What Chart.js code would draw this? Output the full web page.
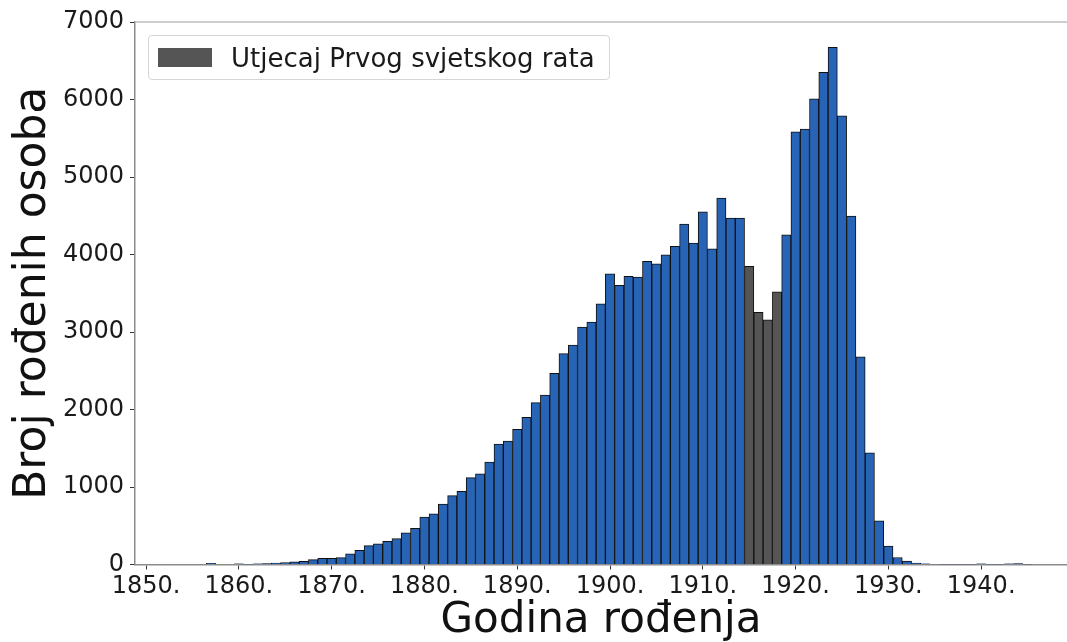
<!DOCTYPE html>
<html>
<head>
<meta charset="utf-8">
<title>Broj rođenih osoba po godini rođenja</title>
<script src="https://cdn.jsdelivr.net/npm/chart.js@4.4.1/dist/chart.umd.min.js"></script>
<style>
    html, body { margin: 0; padding: 0; background: #fff; }
    #wrap { position: relative; width: 1067px; height: 642px; }
    #legend {
        position: absolute; left: 148px; top: 35px; width: 462px; height: 45px;
        box-sizing: border-box; border: 1px solid #d6d6d6; border-radius: 4px;
        background: rgba(255, 255, 255, 0.85);
        display: flex; align-items: center;
        font-family: 'DejaVu Sans', sans-serif; font-size: 26px; color: #1a1a1a;
    }
    #legend .swatch { width: 54px; height: 19px; background: #555555; margin: 0 19px 0 9px; }
</style>
</head>
<body>
<div id="wrap">
    <canvas id="hist" width="1067" height="642"></canvas>
    <div id="legend"><span class="swatch"></span><span>Utjecaj Prvog svjetskog rata</span></div>
</div>
<script>
// godine rođenja (središta stupaca)
const years = [
    1849, 1850, 1851, 1852, 1853, 1854, 1855, 1856, 1857, 1858,
    1859, 1860, 1861, 1862, 1863, 1864, 1865, 1866, 1867, 1868,
    1869, 1870, 1871, 1872, 1873, 1874, 1875, 1876, 1877, 1878,
    1879, 1880, 1881, 1882, 1883, 1884, 1885, 1886, 1887, 1888,
    1889, 1890, 1891, 1892, 1893, 1894, 1895, 1896, 1897, 1898,
    1899, 1900, 1901, 1902, 1903, 1904, 1905, 1906, 1907, 1908,
    1909, 1910, 1911, 1912, 1913, 1914, 1915, 1916, 1917, 1918,
    1919, 1920, 1921, 1922, 1923, 1924, 1925, 1926, 1927, 1928,
    1929, 1930, 1931, 1932, 1933, 1934, 1935, 1936, 1937, 1938,
    1939, 1940, 1941, 1942, 1943, 1944, 1945, 1946
];

// broj rođenih osoba (očitano sa slike)
const counts = [
    0, 0, 0, 0, 0, 0, 0, 0, 15, 0,
    0, 8, 5, 8, 12, 18, 25, 35, 42, 62,
    80, 80, 88, 139, 183, 243, 268, 299, 333, 410,
    467, 613, 655, 780, 888, 944, 1120, 1171, 1322, 1554,
    1593, 1744, 1899, 2088, 2187, 2466, 2720, 2832, 3064, 3128,
    3365, 3751, 3601, 3718, 3709, 3911, 3881, 3997, 4105, 4392,
    4147, 4551, 4074, 4728, 4470, 4470, 3847, 3253, 3158, 3519,
    4254, 5583, 5618, 6009, 6349, 6672, 5790, 4496, 2681, 1442,
    565, 239, 90, 45, 18, 8, 6, 5, 5, 4,
    4, 10, 4, 3, 10, 12, 3, 0
];

// godine Prvog svjetskog rata (sivi stupci)
const warYears = [1915, 1916, 1917, 1918];

const xTicks = [1850, 1860, 1870, 1880, 1890, 1900, 1910, 1920, 1930, 1940];
const yTicks = [0, 1000, 2000, 3000, 4000, 5000, 6000, 7000];

const BLUE = '#2764b5';
const GREY = '#555555';
const FONT = "'DejaVu Sans', sans-serif";

// gornja linija okvira (kao matplotlib spine)
const topSpine = {
    id: 'topSpine',
    afterDraw(chart) {
        const { ctx, chartArea } = chart;
        ctx.save();
        ctx.strokeStyle = '#bdbdbd';
        ctx.lineWidth = 1.5;
        ctx.beginPath();
        ctx.moveTo(chartArea.left, chartArea.top);
        ctx.lineTo(chartArea.right, chartArea.top);
        ctx.stroke();
        ctx.restore();
    }
};

new Chart(document.getElementById('hist'), {
    type: 'bar',
    data: {
        datasets: [{
            label: 'Broj rođenih',
            data: years.map((y, i) => ({ x: y, y: counts[i] })),
            backgroundColor: years.map(y => warYears.includes(y) ? GREY : BLUE),
            borderColor: '#111111',
            borderWidth: 1,
            borderSkipped: 'start',
            barPercentage: 1,
            categoryPercentage: 1
        }]
    },
    options: {
        responsive: false,
        animation: false,
        layout: { padding: { top: 22, right: 0, bottom: 0, left: 0 } },
        plugins: {
            legend: { display: false },
            tooltip: { enabled: false }
        },
        scales: {
            x: {
                type: 'linear',
                offset: false,
                min: 1848.81,
                max: 1949.25,
                afterBuildTicks: scale => { scale.ticks = xTicks.map(v => ({ value: v })); },
                afterFit: scale => { scale.height = 77.5; },
                grid: { drawOnChartArea: false, offset: false, tickLength: 5, tickColor: '#333' },
                border: { color: '#8c8c8c', width: 1.5 },
                ticks: {
                    autoSkip: false,
                    maxRotation: 0,
                    padding: 3,
                    color: '#1a1a1a',
                    font: { family: FONT, size: 24 },
                    callback: v => v + '.'
                },
                title: {
                    display: true,
                    text: 'Godina rođenja',
                    color: '#111',
                    font: { family: FONT, size: 42, lineHeight: 1 },
                    padding: { top: 0, bottom: 0 }
                }
            },
            y: {
                min: 0,
                max: 7000,
                afterBuildTicks: scale => { scale.ticks = yTicks.map(v => ({ value: v })); },
                afterFit: scale => { scale.width = 135; },
                grid: { drawOnChartArea: false, tickLength: 5, tickColor: '#333' },
                border: { color: '#8c8c8c', width: 1.5 },
                ticks: {
                    padding: 6,
                    color: '#1a1a1a',
                    font: { family: FONT, size: 24 },
                    callback: v => String(v)
                },
                title: {
                    display: true,
                    text: 'Broj rođenih osoba',
                    color: '#111',
                    font: { family: FONT, size: 44, lineHeight: 1 },
                    padding: { top: 12, bottom: 0 }
                }
            }
        }
    },
    plugins: [topSpine]
});
</script>
</body>
</html>
